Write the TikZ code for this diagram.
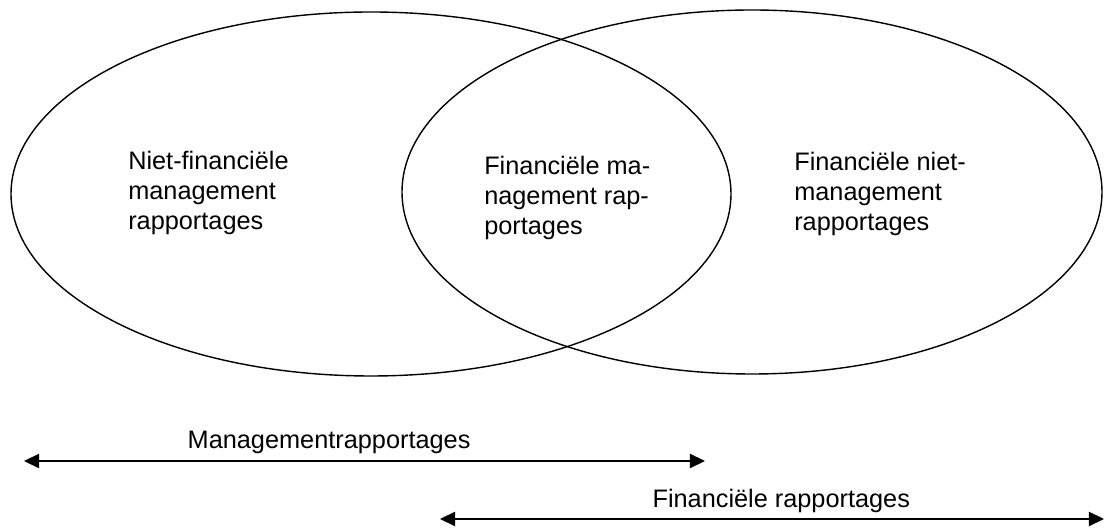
\documentclass[tikz,border=0pt]{standalone}
\usepackage{fontspec}
\setmainfont{Liberation Sans}
\usetikzlibrary{arrows.meta,positioning}

\begin{document}
\begin{tikzpicture}[
    lbl/.style={align=left, font=\fontsize{18}{21.3}\selectfont, inner sep=0pt},
    span/.style={{Triangle[length=0.38cm,width=0.36cm]}-{Triangle[length=0.38cm,width=0.36cm]}, line width=0.9pt}
]
    \useasboundingbox (0,0) rectangle (27.7,13.225);

    % Sets
    \draw[line width=1pt] (9.275,8.375) ellipse (9.0 and 4.55);
    \draw[line width=1pt] (18.8,8.425) ellipse (8.75 and 4.55);

    % Texts in the sets
    \node[lbl, anchor=west] (nietfin) at (3.2,8.4) {Niet-financiële\\management\\rapportages};
    \node[lbl, anchor=west] (finmgmt) at (12.1,8.275) {Financiële ma-\\nagement rap-\\portages};
    \node[lbl, anchor=west] (finniet) at (19.85,8.375) {Financiële niet-\\management\\rapportages};

    % Spans
    \coordinate (mL) at (0.6,1.7);
    \coordinate (mR) at (17.625,1.7);
    \draw[span] (mL) -- (mR) node[pos=0.448, above=5pt, lbl] (mgmt) {Managementrapportages};

    \coordinate (fL) at (11.0,0.25);
    \coordinate (fR) at (27.6,0.25);
    \draw[span] (fL) -- (fR) node[pos=0.514, above=4pt, lbl] (fin) {Financiële rapportages};
\end{tikzpicture}
\end{document}
